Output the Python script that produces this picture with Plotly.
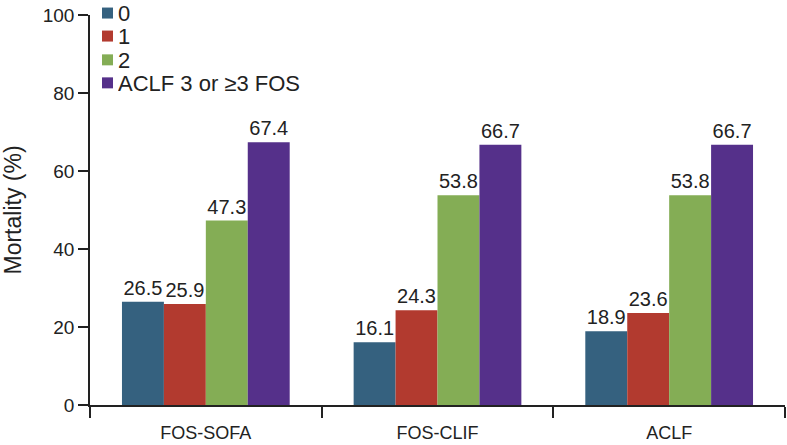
import plotly.graph_objects as go

categories = ["FOS-SOFA", "FOS-CLIF", "ACLF"]
series_names = ["0", "1", "2", "ACLF 3 or ≥3 FOS"]
values_0 = [26.5, 16.1, 18.9]
values_1 = [25.9, 24.3, 23.6]
values_2 = [47.3, 53.8, 53.8]
values_3 = [67.4, 66.7, 66.7]
colors = ["#35617F", "#B23A2F", "#84AD55", "#55308A"]

FONT = "Liberation Sans, Arial, Helvetica, sans-serif"

fig = go.Figure()
for name, vals, col in zip(series_names, [values_0, values_1, values_2, values_3], colors):
    fig.add_trace(go.Bar(
        x=categories, y=vals, name=name, marker_color=col, marker_line_width=0,
        text=[f"{v:.1f}" for v in vals], textposition="outside",
        textfont=dict(size=20, color="#222"), cliponaxis=False,
        showlegend=False,
    ))

# Manual legend (squares + text) to match the compact reference spacing
legend_rows_y = [1.005, 0.946, 0.885, 0.826]
half = 0.0141
for name, col, yy in zip(series_names, colors, legend_rows_y):
    fig.add_shape(type="rect", xref="paper", yref="paper",
                  x0=0.0173, x1=0.0331, y0=yy - half, y1=yy + half,
                  fillcolor=col, line_width=0)
    fig.add_annotation(xref="paper", yref="paper", x=0.0385, y=yy,
                       xanchor="left", yanchor="middle", text=name,
                       height=22, valign="middle", borderpad=0,
                       showarrow=False, font=dict(size=22, color="#222"))

fig.update_layout(
    width=787, height=445,
    margin=dict(l=90, r=2, t=15, b=40),
    paper_bgcolor="white", plot_bgcolor="white",
    barmode="group", bargap=0.276, bargroupgap=0,
    font=dict(family=FONT, color="#222"),
    showlegend=False,
)
fig.update_yaxes(range=[0, 100], tickvals=[0, 20, 40, 60, 80, 100],
                 showline=True, linecolor="#222", linewidth=1.5,
                 ticks="outside", ticklen=10, tickcolor="#222", tickwidth=1.5,
                 showgrid=False, zeroline=False, tickfont=dict(size=19),
                 automargin=False,
                 title=dict(text="Mortality (%)", font=dict(size=23), standoff=16))
fig.update_xaxes(showline=True, linecolor="#222", linewidth=1.5,
                 ticks="outside", ticklen=11, tickcolor="#222", tickwidth=1.5,
                 tickson="boundaries", showgrid=False, tickfont=dict(size=18),
                 ticklabelstandoff=11, automargin=False)

fig.write_html("out.html", post_script="document.body.style.margin='0';",
               config={"displayModeBar": False})
